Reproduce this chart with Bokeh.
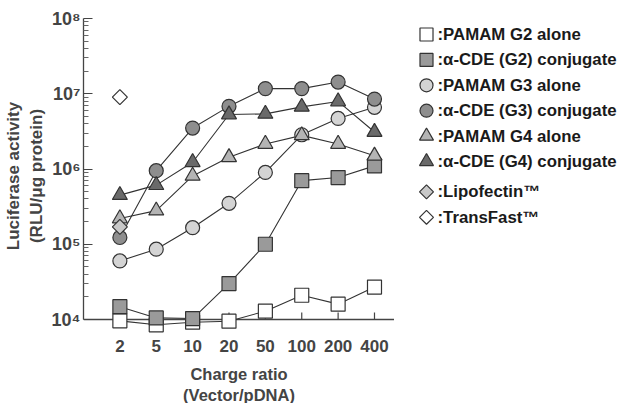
import math
from bokeh.plotting import figure
from bokeh.layouts import row
from bokeh.models import FixedTicker
from bokeh.core.properties import value
from bokeh.embed import file_html
from bokeh.resources import INLINE

# ---- data ----
charge_ratios = ["2", "5", "10", "20", "50", "100", "200", "400"]
xpos = [1, 2, 3, 4, 5, 6, 7, 8]

pamam_g2 = [9.6e3, 8.5e3, 9.2e3, 9.5e3, 1.29e4, 2.1e4, 1.6e4, 2.7e4]
cde_g2 = [1.48e4, 1.05e4, 1.03e4, 3.0e4, 1.0e5, 7.0e5, 7.7e5, 1.1e6]
pamam_g3 = [6.0e4, 8.6e4, 1.66e5, 3.5e5, 9.0e5, 2.85e6, 4.7e6, 6.6e6]
cde_g3 = [1.23e5, 9.5e5, 3.5e6, 6.8e6, 1.17e7, 1.17e7, 1.43e7, 8.5e6]
pamam_g4 = [2.2e5, 2.8e5, 8.1e5, 1.43e6, 2.15e6, 2.8e6, 2.15e6, 1.5e6]
cde_g4 = [4.5e5, 6.1e5, 1.23e6, 5.3e6, 5.4e6, 6.7e6, 7.9e6, 3.1e6]
lipofectin = [1.7e5]
transfast = [9.0e6]
control_x = [1]

ytick_values = [1e4, 1e5, 1e6, 1e7, 1e8]
ytick_labels = ["10\u2074", "10\u2075", "10\u2076", "10\u2077", "10\u2078"]

series = [
    (":PAMAM G2 alone", pamam_g2, "square", "#ffffff"),
    (":\u03b1-CDE (G2) conjugate", cde_g2, "square", "#9a9a9a"),
    (":PAMAM G3 alone", pamam_g3, "circle", "#d4d4d4"),
    (":\u03b1-CDE (G3) conjugate", cde_g3, "circle", "#8e8e8e"),
    (":PAMAM G4 alone", pamam_g4, "triangle", "#b4b4b4"),
    (":\u03b1-CDE (G4) conjugate", cde_g4, "triangle", "#6a6a6a"),
]
controls = [
    (":Lipofectin\u2122", lipofectin, "diamond", "#c8c8c8"),
    (":TransFast\u2122", transfast, "diamond", "#ffffff"),
]

FONT = "Liberation Sans"
EDGE = "#333333"
AXC = "#444444"

FH = 315          # frame height (px); the 10^4 axis sits 14px above frame bottom
DEC = 75.25       # px per decade
ymin = 10 ** (4 - 14 / DEC)


def marker_style(marker, scale=1.0):
    """Bokeh marker name, size and angle; diamonds drawn as rotated squares."""
    if marker == "diamond":
        return dict(marker="square", size=10.6 * scale, angle=math.pi / 4)
    if marker == "triangle":
        return dict(marker="triangle", size=15 * scale, angle=0.0)
    return dict(marker=marker, size=14 * scale, angle=0.0)


p = figure(
    frame_width=311, frame_height=FH,
    y_axis_type="log",
    x_range=(0.0, 8.55), y_range=(ymin, 1e8),
    output_backend="svg", toolbar_location=None,
    min_border_left=81, min_border_top=18, min_border_bottom=54, min_border_right=0,
)
p.outline_line_color = None
p.xgrid.visible = False
p.ygrid.visible = False

# x-axis line at 10^4 (full frame width) and upward ticks
p.hspan(y=[1e4], line_color=AXC, line_width=1.3)
p.ray(x=xpos, y=[1e4] * len(xpos), length=7, length_units="screen", angle=math.pi / 2,
      line_color=AXC, line_width=1.2)

for name, vals, marker, color in series:
    p.line(xpos, vals, line_color=EDGE, line_width=1.1)
for name, vals, marker, color in series:
    p.scatter(xpos, vals, fill_color=color, line_color=EDGE, line_width=1.2, **marker_style(marker))
for name, vals, marker, color in controls:
    p.scatter(control_x, vals, fill_color=color, line_color=EDGE, line_width=1.2, **marker_style(marker))

# x axis (labels only)
xa = p.xaxis[0]
xa.ticker = FixedTicker(ticks=xpos)
xa.major_label_overrides = {x: lab for x, lab in zip(xpos, charge_ratios)}
xa.axis_line_color = None
xa.major_tick_line_color = None
xa.minor_tick_line_color = None
xa.major_label_text_font = FONT
xa.major_label_text_font_style = "bold"
xa.major_label_text_font_size = "17px"
xa.major_label_standoff = 0
xa.axis_label = "Charge ratio\n(Vector/pDNA)"
xa.axis_label_text_font = FONT
xa.axis_label_text_font_style = "bold"
xa.axis_label_text_font_size = "16.5px"
xa.axis_label_standoff = 10

minor = [m * 10 ** d for d in range(4, 8) for m in range(2, 10)]
ya = p.yaxis[0]
ya.bounds = (1e4, 1e8)
ya.ticker = FixedTicker(ticks=ytick_values, minor_ticks=minor)
ya.major_label_overrides = {v: lab for v, lab in zip(ytick_values, ytick_labels)}
ya.major_tick_in = 9
ya.major_tick_out = 0
ya.minor_tick_in = 5
ya.minor_tick_out = 0
ya.axis_line_color = AXC
ya.major_tick_line_color = AXC
ya.minor_tick_line_color = "#666666"
ya.axis_line_width = 1.3
ya.major_label_text_font = FONT
ya.major_label_text_font_style = "bold"
ya.major_label_text_font_size = "18px"
ya.major_label_standoff = 3
ya.axis_label = "Luciferase activity\n(RLU/\u03bcg protein)"
ya.axis_label_text_font = FONT
ya.axis_label_text_font_style = "bold"
ya.axis_label_text_font_size = "17px"
ya.axis_label_standoff = 3

# ---- legend panel: a separate figure in screen-like pixel units ----
LW = 229
lf = figure(
    frame_width=LW, frame_height=FH,
    x_range=(0, LW), y_range=(FH, 0),
    x_axis_location=None, y_axis_location=None,
    output_backend="svg", toolbar_location=None,
    min_border_left=0, min_border_top=18, min_border_bottom=54, min_border_right=0,
)
lf.outline_line_color = None
lf.xgrid.visible = False
lf.ygrid.visible = False

ROW0, PITCH, GROUP_GAP = 16, 25.4, 5
MARK_X, TEXT_X = 32, 43
entries = series + controls
for i, (name, vals, marker, color) in enumerate(entries):
    y = ROW0 + i * PITCH + (GROUP_GAP if i >= len(series) else 0)
    lf.scatter([MARK_X], [y], fill_color=color, line_color=EDGE, line_width=1.2,
               **marker_style(marker, 0.93))
    lf.text([TEXT_X], [y], text=[name], text_font=value(FONT), text_font_style="bold",
            text_font_size="16.8px", text_baseline="middle", text_align="left",
            text_color="#1a1a1a")

layout = row(p, lf, spacing=0)
open("out.html", "w").write(file_html(layout, INLINE))
